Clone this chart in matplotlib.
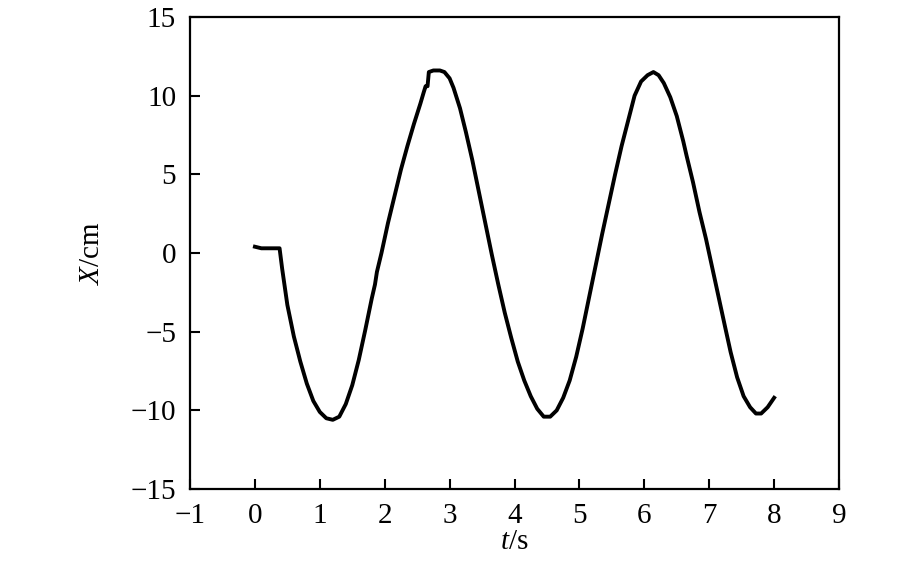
import matplotlib
matplotlib.use('Agg')
import matplotlib.pyplot as plt

plt.rcParams['font.family'] = ['Liberation Serif', 'DejaVu Serif']
plt.rcParams['mathtext.fontset'] = 'custom'
plt.rcParams['mathtext.rm'] = 'Liberation Serif'
plt.rcParams['mathtext.it'] = 'Liberation Serif:italic'

# Час, с
t = [0.0, 0.1, 0.2, 0.3, 0.38, 0.42, 0.5, 0.6, 0.7, 0.8, 0.9, 1.0, 1.1, 1.2,
     1.3, 1.4, 1.5, 1.6, 1.7, 1.8, 1.85, 1.88, 1.95, 2.05, 2.15, 2.25, 2.35,
     2.45, 2.55, 2.6, 2.63, 2.66, 2.68, 2.75, 2.85, 2.92, 3.0, 3.06, 3.16,
     3.25, 3.35, 3.45, 3.55, 3.65, 3.75, 3.85, 3.95, 4.05, 4.15, 4.25, 4.35,
     4.45, 4.55, 4.65, 4.75, 4.85, 4.95, 5.05, 5.15, 5.25, 5.35, 5.45, 5.55,
     5.65, 5.75, 5.85, 5.95, 6.05, 6.14, 6.22, 6.3, 6.4, 6.5, 6.6, 6.65,
     6.75, 6.85, 6.95, 7.05, 7.15, 7.25, 7.33, 7.43, 7.53, 7.63, 7.72, 7.8,
     7.9, 8.0]

# Зміщення, см
x_cm = [0.4, 0.3, 0.3, 0.3, 0.3, -1.0, -3.3, -5.3, -6.9, -8.3, -9.4, -10.1,
        -10.5, -10.6, -10.4, -9.6, -8.4, -6.8, -4.9, -2.9, -2.0, -1.2, 0.0,
        1.9, 3.6, 5.3, 6.8, 8.2, 9.5, 10.2, 10.6, 10.6, 11.5, 11.6, 11.6,
        11.5, 11.1, 10.5, 9.2, 7.7, 5.9, 3.9, 1.9, -0.1, -2.0, -3.8, -5.4,
        -6.9, -8.1, -9.1, -9.9, -10.4, -10.4, -10.0, -9.2, -8.1, -6.6, -4.8,
        -2.8, -0.8, 1.2, 3.1, 5.0, 6.8, 8.4, 10.0, 10.9, 11.3, 11.5, 11.3,
        10.8, 9.9, 8.7, 7.1, 6.2, 4.5, 2.6, 0.9, -1.0, -2.9, -4.8, -6.3, -7.9,
        -9.1, -9.8, -10.2, -10.2, -9.8, -9.2]

x_ticks = list(range(-1, 10))
y_ticks = [-15, -10, -5, 0, 5, 10, 15]

fig = plt.figure(figsize=(9.21, 5.85), dpi=100)
ax = fig.add_axes([0.2063, 0.164, 0.7047, 0.807])

ax.plot(t, x_cm, color='black', linewidth=2.8)

ax.set_xlim(-1, 9)
ax.set_ylim(-15, 15)
ax.set_xticks(x_ticks)
ax.set_yticks(y_ticks)
ax.tick_params(direction='in', length=7, width=1.5, labelsize=21, pad=10)
for s in ax.spines.values():
    s.set_linewidth(1.6)

ax.set_xlabel(r'$t$/s', fontsize=21, labelpad=0)
ax.set_ylabel(r'$X$/cm', fontsize=21, labelpad=18)

fig.savefig('out.png', dpi=100)
